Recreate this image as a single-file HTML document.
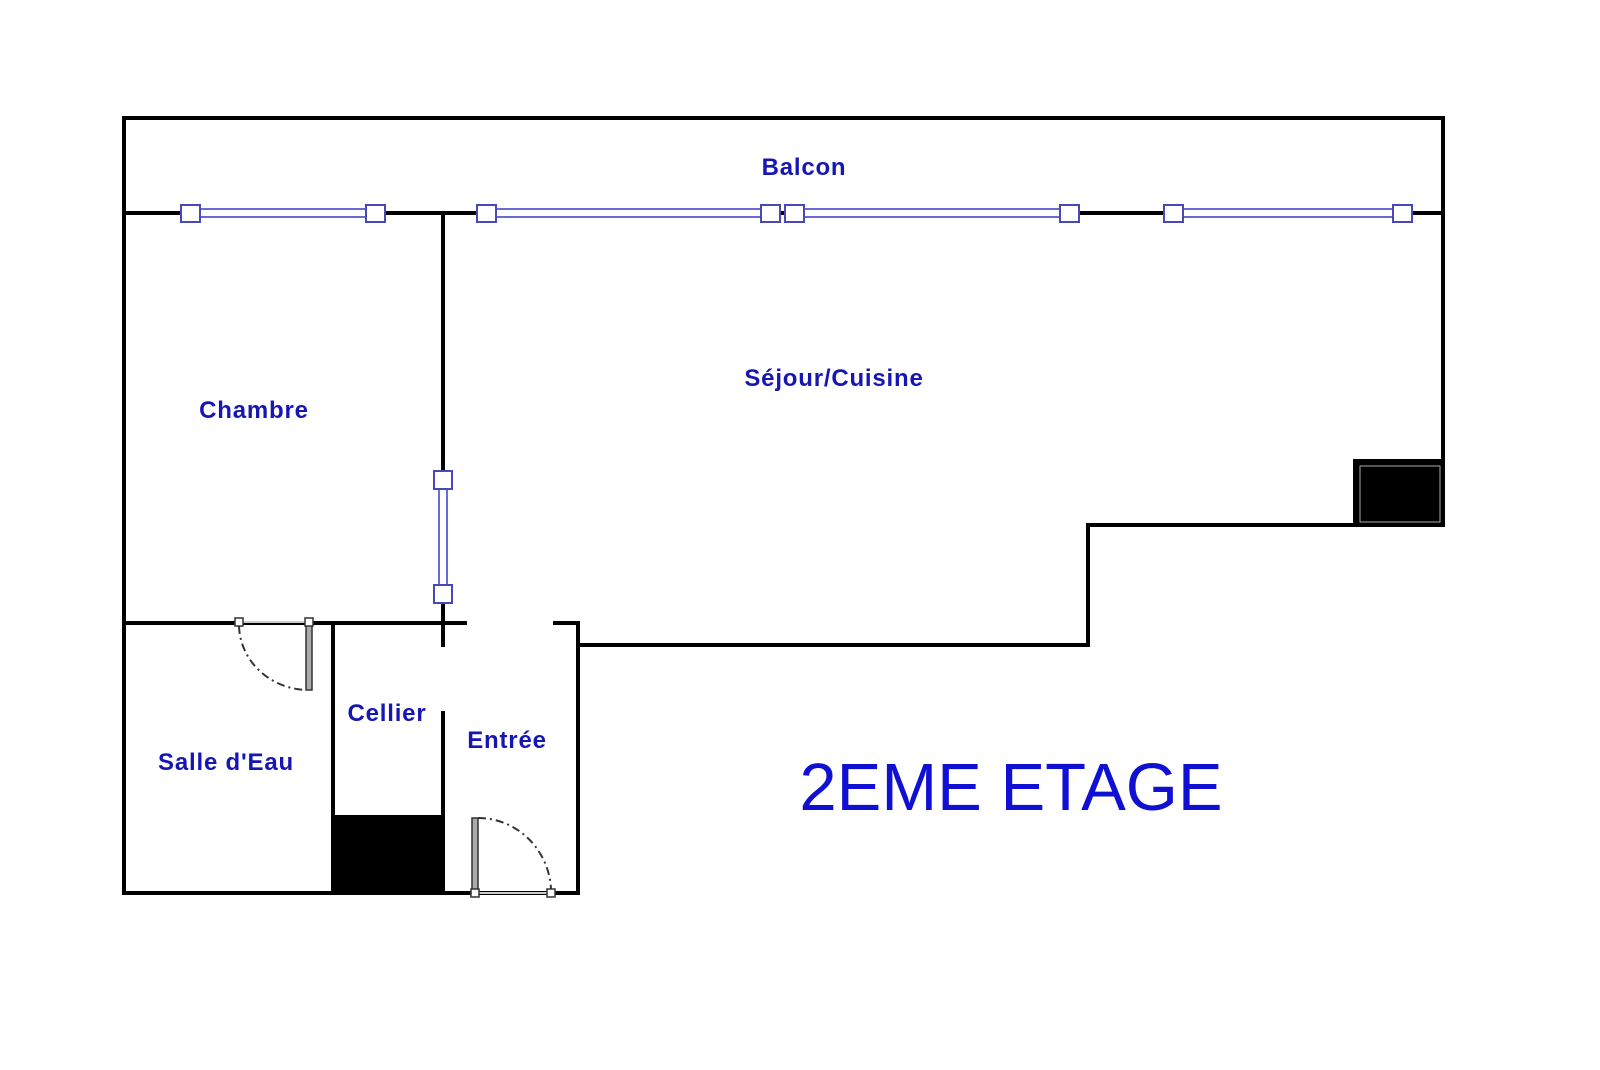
<!DOCTYPE html>
<html><head><meta charset="utf-8"><style>
html,body{margin:0;padding:0;background:#fff;}
svg{display:block}
text{font-family:"Liberation Sans",Arial,sans-serif;fill:#1616b4;font-weight:bold;font-size:24px;letter-spacing:0.8px}
</style></head><body>
<svg width="1600" height="1070" viewBox="0 0 1600 1070" xmlns="http://www.w3.org/2000/svg">
<g stroke="#000" stroke-width="4" fill="none" stroke-linecap="square">
<!-- outer -->
<polyline points="124,893 124,118 1443,118 1443,525 1088,525 1088,645 578,645 578,623 555,623"/>
<line x1="578" y1="645" x2="578" y2="893"/>
<line x1="124" y1="893" x2="578" y2="893"/>
<!-- balcony line -->
<line x1="124" y1="213" x2="1443" y2="213"/>
<!-- interior -->
<line x1="443" y1="213" x2="443" y2="645"/>
<line x1="124" y1="623" x2="465" y2="623"/>
<line x1="333" y1="623" x2="333" y2="893"/>
<line x1="443" y1="713" x2="443" y2="893"/>
</g>
<rect x="333" y="815" width="110" height="78" fill="#000"/>
<rect x="1355" y="461" width="88" height="64" fill="#000" stroke="#000" stroke-width="4"/>
<rect x="1360" y="466" width="80" height="56" fill="none" stroke="#aaa" stroke-width="1"/>
<!-- windows -->
<g fill="#fff" stroke="#4848b8" stroke-width="2">
<rect x="190" y="209" width="185" height="8" stroke="#6a6ad8"/>
<rect x="488" y="209" width="283" height="8" stroke="#6a6ad8"/>
<rect x="794" y="209" width="276" height="8" stroke="#6a6ad8"/>
<rect x="1173" y="209" width="229" height="8" stroke="#6a6ad8"/>
<rect x="439" y="480" width="8" height="114" stroke="#6a6ad8"/>
<rect x="181" y="205" width="19" height="17"/>
<rect x="366" y="205" width="19" height="17"/>
<rect x="477" y="205" width="19" height="17"/>
<rect x="761" y="205" width="19" height="17"/>
<rect x="785" y="205" width="19" height="17"/>
<rect x="1060" y="205" width="19" height="17"/>
<rect x="1164" y="205" width="19" height="17"/>
<rect x="1393" y="205" width="19" height="17"/>
<rect x="434" y="471" width="18" height="18"/>
<rect x="434" y="585" width="18" height="18"/>
</g>
<!-- doors -->
<line x1="239" y1="622" x2="309" y2="622" stroke="#ccc" stroke-width="2"/>
<rect x="306" y="622" width="6" height="68" fill="#aaa" stroke="#333" stroke-width="1.5"/>
<path d="M239,626 A70,66 0 0 0 306,690" fill="none" stroke="#333" stroke-width="2" stroke-dasharray="8,4,2,4"/>
<rect x="235" y="618" width="8" height="8" fill="#fff" stroke="#333" stroke-width="1.5"/>
<rect x="305" y="618" width="8" height="8" fill="#fff" stroke="#333" stroke-width="1.5"/>
<line x1="475" y1="893" x2="551" y2="893" stroke="#ccc" stroke-width="2"/>
<rect x="472" y="818" width="6" height="75" fill="#aaa" stroke="#333" stroke-width="1.5"/>
<path d="M478,818 A73,75 0 0 1 551,889" fill="none" stroke="#333" stroke-width="2" stroke-dasharray="8,4,2,4"/>
<rect x="471" y="889" width="8" height="8" fill="#fff" stroke="#333" stroke-width="1.5"/>
<rect x="547" y="889" width="8" height="8" fill="#fff" stroke="#333" stroke-width="1.5"/>
<!-- labels -->
<text x="804" y="175" text-anchor="middle">Balcon</text>
<text x="254" y="418" text-anchor="middle">Chambre</text>
<text x="834" y="386" text-anchor="middle">Séjour/Cuisine</text>
<text x="387" y="721" text-anchor="middle">Cellier</text>
<text x="507" y="748" text-anchor="middle">Entrée</text>
<text x="226" y="770" text-anchor="middle">Salle d'Eau</text>
<text x="1011" y="810" text-anchor="middle" style="font-size:67px;font-weight:normal;fill:#1010d4;letter-spacing:0">2EME ETAGE</text>
</svg>
</body></html>
